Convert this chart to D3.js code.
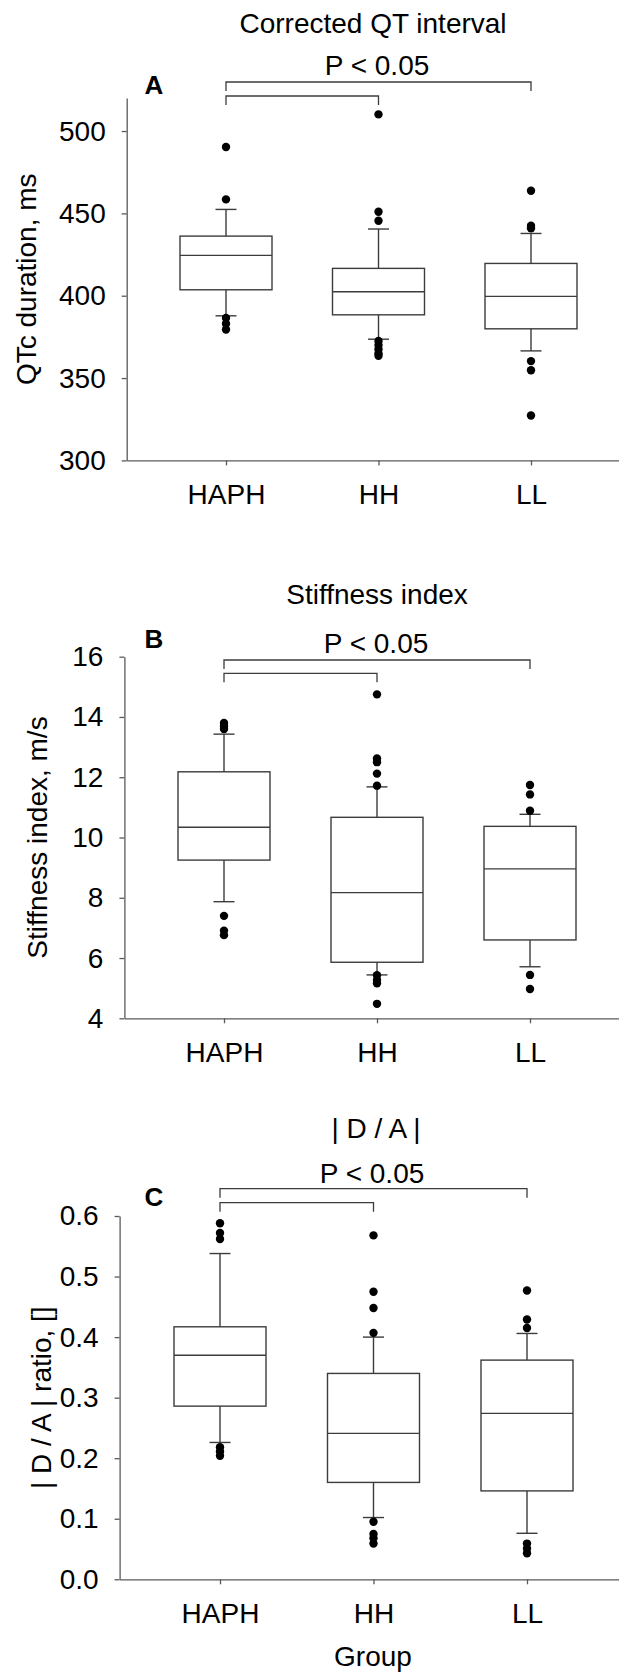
<!DOCTYPE html>
<html>
<head>
<meta charset="utf-8">
<script src="https://cdn.jsdelivr.net/npm/d3@7"></script>
<style>
  body{margin:0;background:#fff}
  svg{display:block;font-family:'Liberation Sans',Arial,sans-serif}
</style>
</head>
<body>
<svg id="chart" width="619" height="1673"></svg>
<script>
const groups=['HAPH','HH','LL']

// box stats per group: [lower whisker, Q1, median, Q3, upper whisker]
const qtcBoxes=[
  [387.8,403.6,424.5,436.2,452.4],
  [373.6,388.4,402.4,416.6,440.5],
  [366.5,379.9,399.6,419.6,437.8]
]
const qtcOutliers=[
  [490.3,458.5,386.5,383,379.5],
  [510.1,451,445.5,372.5,370,367.5,365,363.5],
  [463.7,442.5,441,360.3,354.7,327.3]
]
const qtcTicks=[300,350,400,450,500]

const stiffBoxes=[
  [7.87,9.25,10.34,12.18,13.43],
  [5.44,5.86,8.17,10.67,11.68],
  [5.71,6.60,8.96,10.37,10.77]
]
const stiffOutliers=[
  [13.8,13.7,13.6,7.40,6.91,6.76],
  [14.75,12.62,12.5,12.12,11.72,5.43,5.27,5.16,4.48],
  [11.74,11.43,10.89,5.44,4.97]
]
const stiffTicks=[4,6,8,10,12,14,16]

const daBoxes=[
  [0.226,0.286,0.370,0.417,0.538],
  [0.102,0.160,0.241,0.340,0.400],
  [0.076,0.146,0.274,0.362,0.406]
]
const daOutliers=[
  [0.588,0.572,0.562,0.218,0.211,0.204],
  [0.568,0.475,0.448,0.407,0.095,0.075,0.068,0.059],
  [0.477,0.429,0.415,0.059,0.051,0.043]
]
const daTicks=[0,0.1,0.2,0.3,0.4,0.5,0.6]

const pLabel='P < 0.05'
const xLabel='Group'

const FONT=28
const AXIS_COLOR='#5a5a5a'
const LINE_COLOR='#3c3c3c'

const panels=[
  {letter:'A',title:'Corrected QT interval',yLabel:'QTc duration, ms',
    boxes:qtcBoxes,outliers:qtcOutliers,ticks:qtcTicks,domain:[300,520],format:d3.format('d'),
    top:98.1,bottom:460.4,axisX:126.7,firstX:226,step:152.5,
    titleX:373,titleY:33,pX:377,pY:75,letterY:94,outerY:82,innerY:96,yLabelX:36},
  {letter:'B',title:'Stiffness index',yLabel:'Stiffness index, m/s',
    boxes:stiffBoxes,outliers:stiffOutliers,ticks:stiffTicks,domain:[4,16],format:d3.format('d'),
    top:656.7,bottom:1018.3,axisX:124.4,firstX:224,step:153,
    titleX:377,titleY:604,pX:376,pY:652.5,letterY:648,outerY:660,innerY:673.3,yLabelX:47},
  {letter:'C',title:'| D / A |',yLabel:'| D / A | ratio, []',
    boxes:daBoxes,outliers:daOutliers,ticks:daTicks,domain:[0,0.6],format:d3.format('.1f'),
    top:1216,bottom:1579.3,axisX:119.6,firstX:220,step:153.5,
    titleX:376,titleY:1137.5,pX:372,pY:1182.5,letterY:1206,outerY:1188.7,innerY:1202.7,yLabelX:51}
]

function place(sel,x,y,rotate){
  sel.attr('transform',`translate(${x},${y})${rotate?' rotate(-90)':''}`)
}

class BoxPanel{
  constructor(svg,cfg){
    this.svg=svg
    this.cfg=cfg
  }
  render(){
    const c=this.cfg
    const g=this.svg.append('g').attr('class','panel')
    const y=d3.scaleLinear().domain(c.domain).range([c.bottom,c.top])
    const pad=(c.firstX-c.axisX)/c.step
    const x=d3.scalePoint()
      .domain(groups)
      .range([c.axisX,c.axisX+c.step*(2+2*pad)])
      .padding(pad)

    const yAxis=g.append('g')
      .attr('transform',`translate(${c.axisX},0)`)
      .call(d3.axisLeft(y).tickValues(c.ticks).tickFormat(c.format).tickSize(5).tickSizeOuter(0).tickPadding(16))
    const xAxis=g.append('g')
      .attr('transform',`translate(0,${c.bottom})`)
      .call(d3.axisBottom(x).tickSize(5).tickSizeOuter(0).tickPadding(19))
    ;[yAxis,xAxis].forEach(a=>{
      a.selectAll('path,line').attr('stroke',AXIS_COLOR).attr('stroke-width',1.3)
      a.selectAll('text').attr('font-size',FONT).attr('fill','#000')
      a.attr('font-family',null).attr('font-size',null)
    })

    //boxes
    const boxW=92
    const capW=21
    const rows=groups.map((grp,i)=>({grp,s:c.boxes[i]}))
    const box=g.selectAll('g.box').data(rows).enter().append('g').attr('class','box')
      .attr('stroke',LINE_COLOR).attr('stroke-width',1.4).attr('fill','none')
    box.append('rect')
      .attr('x',d=>x(d.grp)-boxW/2)
      .attr('y',d=>y(d.s[3]))
      .attr('width',boxW)
      .attr('height',d=>y(d.s[1])-y(d.s[3]))
    box.append('line')
      .attr('x1',d=>x(d.grp)-boxW/2).attr('x2',d=>x(d.grp)+boxW/2)
      .attr('y1',d=>y(d.s[2])).attr('y2',d=>y(d.s[2]))
    //whiskers: [from, to]
    box.selectAll('line.whisker')
      .data(d=>[[d.s[3],d.s[4]],[d.s[1],d.s[0]]].map(w=>({grp:d.grp,w})))
      .enter().append('line').attr('class','whisker')
      .attr('x1',d=>x(d.grp)).attr('x2',d=>x(d.grp))
      .attr('y1',d=>y(d.w[0])).attr('y2',d=>y(d.w[1]))
    box.selectAll('line.cap')
      .data(d=>[d.s[0],d.s[4]].map(v=>({grp:d.grp,v})))
      .enter().append('line').attr('class','cap')
      .attr('x1',d=>x(d.grp)-capW/2).attr('x2',d=>x(d.grp)+capW/2)
      .attr('y1',d=>y(d.v)).attr('y2',d=>y(d.v))

    //outliers
    const pts=groups.flatMap((grp,i)=>c.outliers[i].map(v=>({grp,v})))
    g.selectAll('circle.out').data(pts).enter().append('circle')
      .attr('class','out')
      .attr('cx',d=>x(d.grp))
      .attr('cy',d=>y(d.v))
      .attr('r',4.2)
      .attr('fill','#000')

    //significance brackets
    const drop=9
    const bracket=(a,b,yy)=>`M${x(a)},${yy+drop}V${yy}H${x(b)}V${yy+drop}`
    g.append('path').attr('d',bracket('HAPH','LL',c.outerY))
      .attr('fill','none').attr('stroke',LINE_COLOR).attr('stroke-width',1.3)
    g.append('path').attr('d',bracket('HAPH','HH',c.innerY))
      .attr('fill','none').attr('stroke',LINE_COLOR).attr('stroke-width',1.3)

    //texts
    g.append('text').text(c.title)
      .attr('text-anchor','middle').attr('font-size',FONT)
      .call(place,c.titleX,c.titleY)
    g.append('text').text(pLabel)
      .attr('text-anchor','middle').attr('font-size',FONT)
      .call(place,c.pX,c.pY)
    g.append('text').text(c.letter)
      .attr('text-anchor','middle').attr('font-size',26).attr('font-weight','bold')
      .call(place,154,c.letterY)
    g.append('text').text(c.yLabel)
      .attr('text-anchor','middle').attr('font-size',FONT)
      .call(place,c.yLabelX,(c.top+c.bottom)/2,true)
  }
}

const svg=d3.select('#chart')
panels.forEach(cfg=>new BoxPanel(svg,cfg).render())

svg.append('text').text(xLabel)
  .attr('text-anchor','middle').attr('font-size',FONT)
  .call(place,373,1666)
</script>
</body>
</html>
